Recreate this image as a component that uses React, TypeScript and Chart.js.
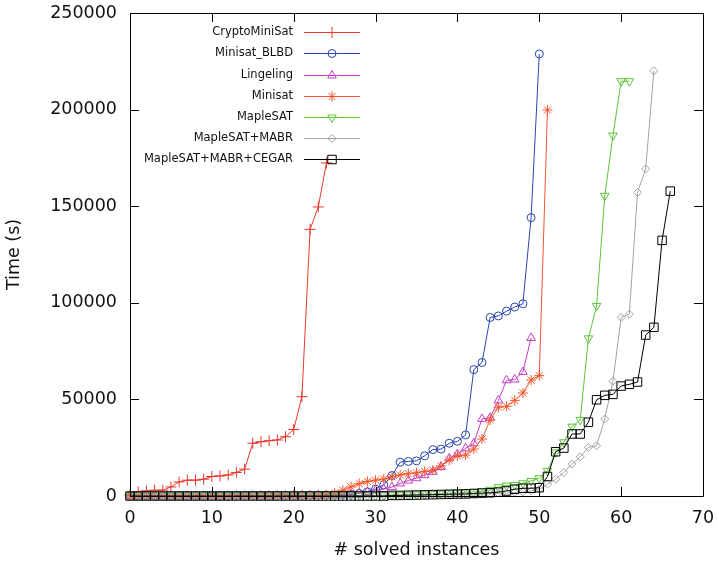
import React, { useEffect, useRef } from "react";
import { Chart, registerables } from "chart.js";
import { drawPoint } from "chart.js/helpers";

Chart.register(...registerables);

const seriesNames = [
  "CryptoMiniSat",
  "Minisat_BLBD",
  "Lingeling",
  "Minisat",
  "MapleSAT",
  "MapleSAT+MABR",
  "MapleSAT+MABR+CEGAR",
];

const cryptoMiniSat = [
  400, 2100, 2600, 3000, 3000, 4700, 7300, 8200, 8200, 8700, 10100, 10400, 10900, 12200, 13900,
  27300, 28100, 28600, 29000, 30700, 34400, 51400, 138000, 149600, 172400,
];

const minisatBLBD = [
  0, 0, 0, 0, 0, 0, 50, 50, 50, 50, 100, 100, 100, 100, 100, 150, 150, 150, 200, 200, 200, 250, 300, 350, 400,
  500, 700, 900, 1300, 2200, 3600, 5800, 10600, 17500, 17900, 18200, 20800, 24000, 24300, 27300, 28300,
  31600, 65400, 69100, 92400, 93200, 95700, 97800, 99500, 144100, 228800,
];

const lingeling = [
  0, 0, 0, 0, 0, 50, 50, 50, 50, 50, 100, 100, 100, 100, 100, 100, 150, 150, 150, 150, 200, 200, 200, 250, 300,
  400, 600, 900, 1400, 2000, 2800, 3600, 4600, 6500, 8000, 9200, 10800, 12500, 15000, 19500, 21700, 24700,
  27300, 39900, 40500, 49500, 59900, 60300, 64200, 81800,
];

const minisat = [
  0, 0, 0, 0, 0, 0, 0, 50, 50, 50, 50, 50, 100, 100, 100, 100, 100, 150, 150, 150, 200, 200, 250, 300,
  600, 1500, 3000, 4700, 6400, 7500, 8200, 8800, 9900, 10900, 11600, 12000, 12700, 13400, 15600, 18600,
  20800, 21200, 24300, 29500, 39400, 46000, 46400, 49500, 53300, 60000, 62300, 199800,
];

const mapleSAT = [
  0, 0, 0, 0, 0, 0, 0, 0, 0, 0, 0, 0, 0, 0, 0, 50, 50, 50, 50, 50, 100, 100, 100, 100, 150, 150, 200, 200,
  250, 300, 350, 400, 500, 600, 700, 800, 900, 1000, 1200, 1400, 1600, 1800, 2100, 2500, 3200,
  4600, 5400, 5700, 6600, 7800, 9200, 13000, 22600, 27800, 35900, 39400, 81600, 98400, 155400, 186600,
  214700, 214700,
];

const mapleMABR = [
  0, 0, 0, 0, 0, 0, 0, 0, 0, 0, 0, 0, 0, 0, 0, 0, 0, 0, 0, 0, 50, 50, 50, 50, 50, 100, 100, 100, 100, 150,
  150, 200, 200, 250, 300, 350, 400, 450, 500, 600, 700, 800, 900, 1000, 1200, 1400, 1600, 1800,
  2000, 2600, 3500, 6100, 8700, 12100, 16500, 20300, 25200, 26000, 39900, 59400, 92400, 94100, 157100,
  169300, 220100,
];

const mapleMABRCEGAR = [
  0, 0, 0, 0, 0, 0, 0, 0, 0, 0, 0, 0, 0, 0, 0, 0, 0, 0, 0, 0, 0, 0, 0, 0, 0, 0, 0, 0, 0, 0, 0, 0,
  300, 300, 400, 500, 600, 700, 800, 900, 1000, 1100, 1300, 1500, 1700, 2000,
  2600, 3500, 4000, 4000, 4300, 10100, 22900, 24800, 32100, 32100, 38200, 49800, 52100, 52600, 56900,
  57800, 59000, 83300, 87300, 132300, 157800,
];

const xTicks = [0, 10, 20, 30, 40, 50, 60, 70];
const yTicks = [0, 50000, 100000, 150000, 200000, 250000];

const seriesValues = [cryptoMiniSat, minisatBLBD, lingeling, minisat, mapleSAT, mapleMABR, mapleMABRCEGAR];
const seriesColors = ["#e8372c", "#2a45ad", "#c23fc2", "#f2552b", "#5ec43c", "#a2a2a2", "#000000"];
const seriesStyles = ["cross", "circle", "triangle", "star", "triangle", "rectRot", "rect"];
const seriesRotation = [0, 0, 0, 0, 180, 0, 0];
const seriesRadius = [5.5, 4, 5, 5, 5, 4, 6];

const FONT = "'DejaVu Sans', sans-serif";

const framePlugin = {
  id: "frame",
  afterDatasetsDraw(chart: any) {
    const { ctx, chartArea } = chart;
    const { left, right, top, bottom } = chartArea;
    const xs = chart.scales.x;
    const ys = chart.scales.y;
    ctx.save();
    ctx.strokeStyle = "#000";
    ctx.lineWidth = 1;
    ctx.beginPath();
    ctx.rect(Math.round(left) + 0.5, Math.round(top) + 0.5, Math.round(right - left), Math.round(bottom - top));
    const tl = 9;
    xTicks.forEach((v) => {
      const px = Math.round(xs.getPixelForValue(v)) + 0.5;
      ctx.moveTo(px, bottom);
      ctx.lineTo(px, bottom - tl);
      ctx.moveTo(px, top);
      ctx.lineTo(px, top + tl);
    });
    yTicks.forEach((v) => {
      const py = Math.round(ys.getPixelForValue(v)) + 0.5;
      ctx.moveTo(left, py);
      ctx.lineTo(left + tl, py);
      ctx.moveTo(right, py);
      ctx.lineTo(right - tl, py);
    });
    ctx.stroke();
    ctx.restore();
  },
};

const legendPlugin = {
  id: "customLegend",
  afterDraw(chart: any) {
    const { ctx, chartArea } = chart;
    const textRight = chartArea.left + 163;
    const lineStart = chartArea.left + 174;
    const lineEnd = chartArea.left + 230;
    const markX = chartArea.left + 202;
    const firstY = chartArea.top + 19.3;
    const step = 21.1;
    ctx.save();
    ctx.font = `11.5px ${FONT}`;
    ctx.textAlign = "right";
    ctx.textBaseline = "middle";
    chart.data.datasets.forEach((ds: any, i: number) => {
      const y = Math.round(firstY + i * step) + 0.5;
      ctx.fillStyle = "#111";
      ctx.fillText(ds.label, textRight, y);
      ctx.strokeStyle = ds.borderColor;
      ctx.lineWidth = 1;
      ctx.beginPath();
      ctx.moveTo(lineStart, y);
      ctx.lineTo(lineEnd, y);
      ctx.stroke();
      ctx.fillStyle = "rgba(0,0,0,0)";
      ctx.strokeStyle = ds.pointBorderColor;
      drawPoint(
        ctx,
        {
          pointStyle: ds.pointStyle,
          rotation: ds.pointRotation,
          radius: ds.pointRadius,
          borderWidth: 1,
        },
        markX,
        y
      );
    });
    ctx.restore();
  },
};

export default function App() {
  const canvasRef = useRef<HTMLCanvasElement | null>(null);

  useEffect(() => {
    document.body.style.margin = "0";
    const canvas = canvasRef.current;
    if (!canvas) return;
    const datasets = seriesNames.map((name, i) => ({
      label: name,
      data: seriesValues[i].map((v, k) => ({ x: k, y: v })),
      borderColor: seriesColors[i],
      backgroundColor: "rgba(0,0,0,0)",
      pointBorderColor: seriesColors[i],
      pointBackgroundColor: "rgba(0,0,0,0)",
      pointStyle: seriesStyles[i],
      pointRotation: seriesRotation[i],
      pointRadius: seriesRadius[i],
      pointBorderWidth: 1,
      borderWidth: 1,
      tension: 0,
      fill: false,
      clip: false,
      order: seriesNames.length - i,
    }));

    const chart = new Chart(canvas, {
      type: "line",
      data: { datasets },
      plugins: [framePlugin, legendPlugin],
      options: {
        responsive: false,
        animation: false,
        devicePixelRatio: 1,
        layout: { padding: { top: 13, right: 14, left: 0, bottom: 0 } },
        plugins: {
          legend: { display: false },
          tooltip: { enabled: false },
        },
        scales: {
          x: {
            type: "linear",
            min: 0,
            max: 70,
            afterFit: (s: any) => {
              s.height = 65;
              s.paddingLeft = 0;
              s.paddingRight = 0;
            },
            afterBuildTicks: (s: any) => {
              s.ticks = xTicks.map((v) => ({ value: v }));
            },
            grid: { display: false, drawTicks: false },
            border: { display: false },
            ticks: {
              padding: 12,
              color: "#111",
              font: { family: FONT, size: 17.5 },
              maxRotation: 0,
            },
            title: {
              display: true,
              text: "# solved instances",
              color: "#111",
              font: { family: FONT, size: 17.5 },
              padding: { top: 0, bottom: 0 },
            },
          },
          y: {
            type: "linear",
            min: 0,
            max: 250000,
            afterFit: (s: any) => {
              s.width = 130;
              s.paddingTop = 0;
              s.paddingBottom = 0;
            },
            afterBuildTicks: (s: any) => {
              s.ticks = yTicks.map((v) => ({ value: v }));
            },
            grid: { display: false, drawTicks: false },
            border: { display: false },
            ticks: {
              padding: 13,
              color: "#111",
              font: { family: FONT, size: 17.5 },
              callback: (v: any) => String(v),
            },
            title: {
              display: true,
              text: "Time (s)",
              color: "#111",
              font: { family: FONT, size: 17.5 },
              padding: { top: 4, bottom: 0 },
            },
          },
        },
      },
    });
    return () => chart.destroy();
  }, []);

  return (
    <div style={{ width: 717, height: 561 }}>
      <canvas ref={canvasRef} width={717} height={561} style={{ display: "block" }} />
    </div>
  );
}
